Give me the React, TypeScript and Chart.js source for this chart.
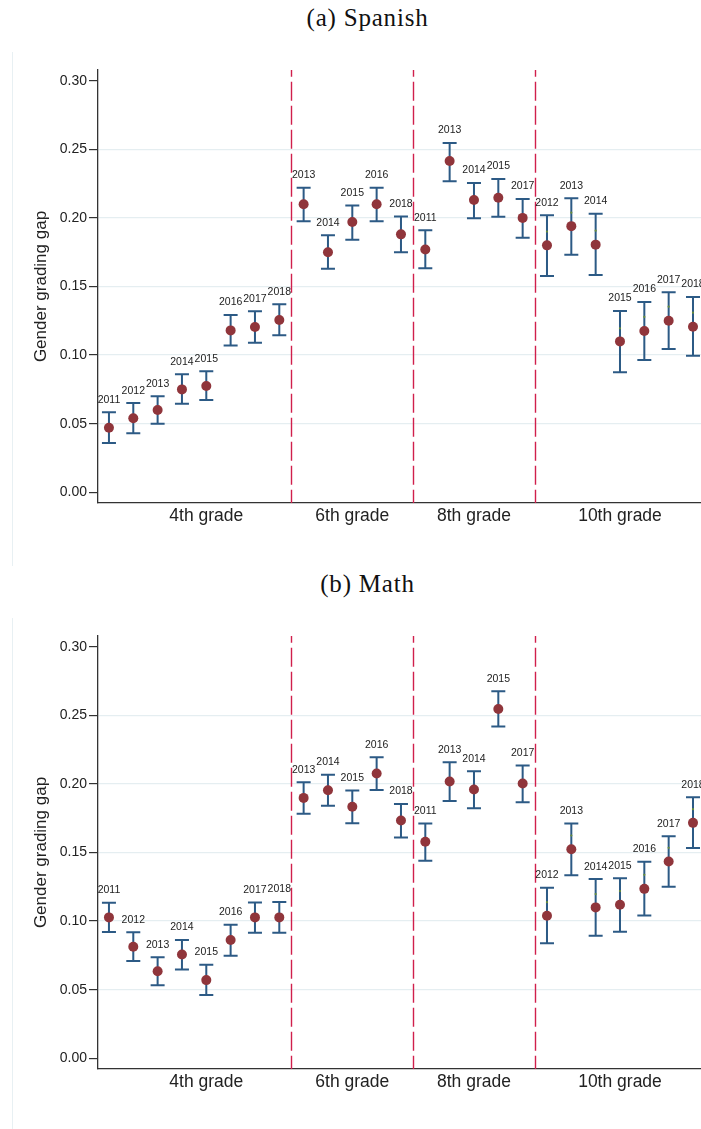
import React, { useEffect, useRef } from "react";
import { Chart, registerables } from "chart.js";

Chart.register(...registerables);

// ---------- data ----------
const xPos = [0, 1, 2, 3, 4, 5, 6, 7, 8, 9, 10, 11, 12, 13, 14, 15, 16, 17, 18, 19, 20, 21, 22, 23, 24];
const yearLabels = [
  "2011", "2012", "2013", "2014", "2015", "2016", "2017", "2018",
  "2013", "2014", "2015", "2016", "2018",
  "2011", "2013", "2014", "2015", "2017",
  "2012", "2013", "2014", "2015", "2016", "2017", "2018",
];
const gradeTickPos = [4, 10, 15, 21];
const gradeLabels = ["4th grade", "6th grade", "8th grade", "10th grade"];
const dividerPos = [7.5, 12.5, 17.5];
const yTickValues = [0, 0.05, 0.1, 0.15, 0.2, 0.25, 0.3];

const spanishEst = [
  0.047, 0.054, 0.060, 0.075, 0.0775, 0.118, 0.1205, 0.1256,
  0.210, 0.175, 0.197, 0.210, 0.188,
  0.177, 0.2415, 0.213, 0.2147, 0.200,
  0.180, 0.194, 0.1805, 0.110, 0.1176, 0.1251, 0.1207,
];
const spanishLo = [
  0.036, 0.043, 0.050, 0.0646, 0.0673, 0.107, 0.109, 0.1144,
  0.1975, 0.163, 0.184, 0.1975, 0.175,
  0.1633, 0.2267, 0.1997, 0.2009, 0.1856,
  0.1577, 0.1732, 0.1584, 0.0875, 0.0964, 0.1044, 0.0995,
];
const spanishHi = [
  0.0583, 0.065, 0.070, 0.086, 0.0882, 0.1292, 0.132, 0.137,
  0.222, 0.1873, 0.209, 0.222, 0.201,
  0.191, 0.2546, 0.2254, 0.2284, 0.2138,
  0.2019, 0.2143, 0.2031, 0.1321, 0.1387, 0.1458, 0.1423,
];
const spanishMid = [
  0.047, 0.054, 0.060, 0.075, 0.0775, 0.118, 0.1205, 0.1256,
  0.210, 0.175, 0.197, 0.210, 0.188,
  0.177, 0.2415, 0.213, 0.2147, 0.200,
  0.190, 0.2038, 0.1907, 0.1195, 0.1278, 0.1353, 0.1309,
];

const mathEst = [
  0.1027, 0.0813, 0.0634, 0.0757, 0.057, 0.0862, 0.1027, 0.1027,
  0.1898, 0.1954, 0.1833, 0.2076, 0.1733,
  0.1578, 0.2017, 0.1959, 0.2546, 0.2003,
  0.1039, 0.1524, 0.110, 0.1119, 0.1235, 0.1435, 0.1716,
];
const mathLo = [
  0.092, 0.0709, 0.0532, 0.0648, 0.0461, 0.0747, 0.0915, 0.0915,
  0.1782, 0.184, 0.1714, 0.1956, 0.161,
  0.1439, 0.1876, 0.1823, 0.2418, 0.1867,
  0.0838, 0.1335, 0.0893, 0.0922, 0.1041, 0.125, 0.1532,
];
const mathHi = [
  0.1133, 0.0918, 0.0736, 0.0862, 0.0682, 0.0973, 0.1135, 0.114,
  0.2012, 0.2066, 0.1952, 0.2194, 0.1854,
  0.1712, 0.2158, 0.2092, 0.2675, 0.2134,
  0.1243, 0.1712, 0.1306, 0.1313, 0.1432, 0.1619, 0.1903,
];
const mathMid = [
  0.1027, 0.0813, 0.0634, 0.0757, 0.057, 0.0862, 0.1027, 0.1027,
  0.1898, 0.1954, 0.1833, 0.2076, 0.1733,
  0.1578, 0.2017, 0.1959, 0.2546, 0.2003,
  0.1138, 0.1624, 0.1197, 0.1219, 0.1337, 0.1534, 0.1816,
];

// ---------- style ----------
const SANS = "'Liberation Sans', Arial, sans-serif";
const POINT_COLOR = "#90353b";
const BAR_COLOR = "#2c5a85";
const MID_COLOR = "#6a8f3a";
const DIVIDER_COLOR = "#d01f4c";
const GRID_COLOR = "#e5eef1";
const AXIS_COLOR = "#333333";
const TEXT_COLOR = "#222222";

const W = 701;
const CW = 707;
const H = 566;

type PanelProps = {
  title: string;
  est: number[];
  lo: number[];
  hi: number[];
  mid: number[];
};

function Panel({ title, est, lo, hi, mid }: PanelProps) {
  const ref = useRef<HTMLCanvasElement | null>(null);

  useEffect(() => {
    const canvas = ref.current;
    if (!canvas) return;

    const overlay = {
      id: "overlay",
      beforeDatasetsDraw(chart: any) {
        const { ctx, chartArea } = chart;
        const x = chart.scales.x;
        const y = chart.scales.y;
        ctx.save();
        // dashed grade dividers
        ctx.strokeStyle = DIVIDER_COLOR;
        ctx.lineWidth = 1.4;
        ctx.setLineDash([19, 5]);
        ctx.lineDashOffset = 12.3;
        dividerPos.forEach((d) => {
          const px = Math.round(x.getPixelForValue(d)) + 0.5;
          ctx.beginPath();
          ctx.moveTo(px, chartArea.top);
          ctx.lineTo(px, chartArea.bottom);
          ctx.stroke();
        });
        ctx.setLineDash([]);
        // error bars
        ctx.strokeStyle = BAR_COLOR;
        ctx.lineWidth = 2;
        xPos.forEach((xv, i) => {
          const px = x.getPixelForValue(xv);
          const pl = y.getPixelForValue(lo[i]);
          const ph = y.getPixelForValue(hi[i]);
          ctx.beginPath();
          ctx.moveTo(px, pl);
          ctx.lineTo(px, ph);
          ctx.moveTo(px - 7, pl);
          ctx.lineTo(px + 7, pl);
          ctx.moveTo(px - 7, ph);
          ctx.lineTo(px + 7, ph);
          ctx.stroke();
        });
        ctx.restore();
      },
      afterDatasetsDraw(chart: any) {
        const { ctx } = chart;
        const x = chart.scales.x;
        const y = chart.scales.y;
        ctx.save();
        ctx.fillStyle = TEXT_COLOR;
        ctx.font = `10.5px ${SANS}`;
        ctx.textAlign = "center";
        ctx.textBaseline = "middle";
        xPos.forEach((xv, i) => {
          const px = x.getPixelForValue(xv);
          const ph = y.getPixelForValue(hi[i]);
          ctx.fillText(yearLabels[i], px, ph - 12.5);
        });
        ctx.restore();
      },
      afterDraw(chart: any) {
        const { ctx, chartArea } = chart;
        ctx.save();
        ctx.fillStyle = TEXT_COLOR;
        ctx.font = `17px ${SANS}`;
        ctx.textAlign = "center";
        ctx.textBaseline = "middle";
        ctx.translate(41, (chartArea.top + chartArea.bottom) / 2);
        ctx.rotate(-Math.PI / 2);
        ctx.fillText("Gender grading gap", 0, 0);
        ctx.restore();
      },
    };

    const chart = new Chart(canvas, {
      type: "scatter",
      data: {
        datasets: [
          {
            label: "estimate",
            data: xPos.map((xv, i) => ({ x: xv, y: est[i] })),
            backgroundColor: POINT_COLOR,
            borderColor: POINT_COLOR,
            borderWidth: 0,
            pointRadius: 5,
          },
          {
            label: "mid",
            data: xPos.map((xv, i) => ({ x: xv, y: mid[i] })),
            backgroundColor: MID_COLOR,
            borderColor: MID_COLOR,
            borderWidth: 0,
            pointRadius: 1.1,
          },
        ],
      },
      options: {
        responsive: false,
        animation: false,
        devicePixelRatio: 1,
        layout: { padding: { top: 70, right: 0, bottom: 0, left: 0 } },
        plugins: {
          legend: { display: false },
          tooltip: { enabled: false },
          title: { display: false },
        },
        scales: {
          x: {
            type: "linear",
            min: -0.45,
            max: 24.37,
            afterFit(scale: any) {
              scale.height = 63;
            },
            afterBuildTicks(scale: any) {
              scale.ticks = gradeTickPos.map((v) => ({ value: v }));
            },
            ticks: {
              autoSkip: false,
              maxRotation: 0,
              padding: 3,
              color: TEXT_COLOR,
              font: { family: SANS, size: 17.5 },
              callback: (v: any) => {
                const i = gradeTickPos.indexOf(Number(v));
                return i >= 0 ? gradeLabels[i] : "";
              },
            },
            grid: { display: false, drawTicks: false },
            border: { display: true, color: AXIS_COLOR, width: 1.3 },
          },
          y: {
            type: "linear",
            min: -0.0078,
            max: 0.3078,
            afterFit(scale: any) {
              scale.width = 98;
            },
            afterBuildTicks(scale: any) {
              scale.ticks = yTickValues.map((v) => ({ value: v }));
            },
            ticks: {
              autoSkip: false,
              padding: 2,
              color: TEXT_COLOR,
              font: { family: SANS, size: 14 },
              callback: (v: any) => Number(v).toFixed(2),
            },
            grid: {
              drawTicks: true,
              tickLength: 9,
              tickWidth: 1.2,
              tickColor: AXIS_COLOR,
              lineWidth: 1.2,
              color: (c: any) => {
                const v = c.tick ? c.tick.value : 0;
                return v > 0.001 && v < 0.299 ? GRID_COLOR : "rgba(0,0,0,0)";
              },
            },
            border: { display: true, color: AXIS_COLOR, width: 1.3 },
          },
        },
      },
      plugins: [overlay],
    });

    return () => {
      chart.destroy();
    };
  }, [est, lo, hi, mid]);

  return (
    <div style={{ position: "relative", width: W, height: H, overflow: "hidden" }}>
      <div
        style={{
          position: "absolute",
          left: 0,
          top: 3,
          width: 735,
          textAlign: "center",
          fontFamily: "'Liberation Serif', 'Times New Roman', serif",
          fontSize: 25,
          lineHeight: "30px",
          letterSpacing: "0.8px",
          color: "#111",
        }}
      >
        {title}
      </div>
      <div
        style={{
          position: "absolute",
          left: 12,
          top: 52,
          width: 1,
          height: 515,
          background: "#e8f0f3",
        }}
      />
      <canvas
        ref={ref}
        width={CW}
        height={H}
        style={{ position: "absolute", left: 0, top: 0, width: CW, height: H }}
      />
    </div>
  );
}

export default function App() {
  return (
    <div
      style={{
        position: "absolute",
        left: 0,
        top: 0,
        width: W,
        height: 1129,
        overflow: "hidden",
        background: "#ffffff",
      }}
    >
      <Panel title="(a) Spanish" est={spanishEst} lo={spanishLo} hi={spanishHi} mid={spanishMid} />
      <Panel title="(b) Math" est={mathEst} lo={mathLo} hi={mathHi} mid={mathMid} />
    </div>
  );
}
